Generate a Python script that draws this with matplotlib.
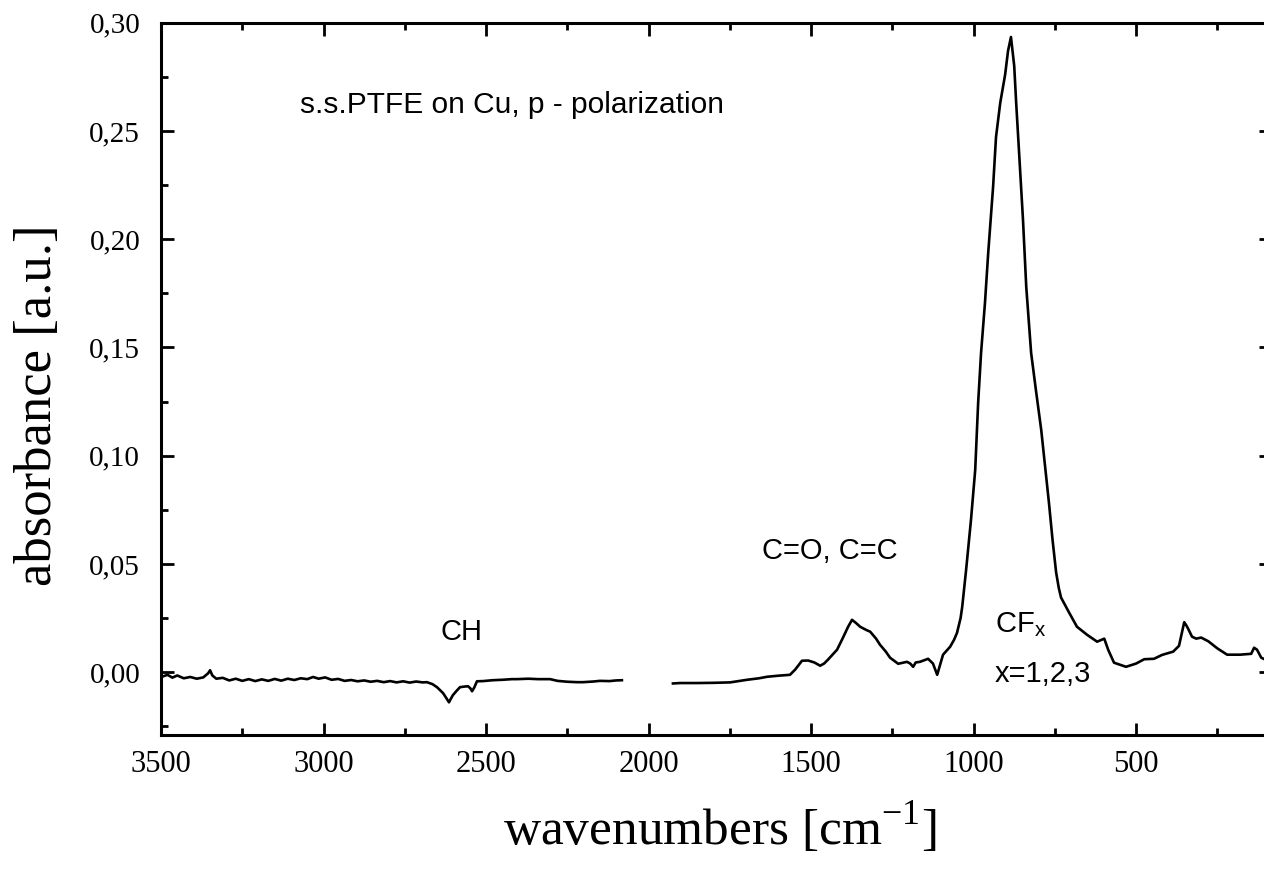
import numpy as np
import matplotlib
matplotlib.use("Agg")
import matplotlib.pyplot as plt
from matplotlib.ticker import MultipleLocator, FuncFormatter

# ---- data: segment 1 (high wavenumber) ----
seg1_w = [3495, 3480, 3465, 3450, 3430, 3410, 3390, 3370, 3355, 3349, 3342, 3330, 3310, 3290,
          3270, 3250, 3230, 3210, 3190, 3170, 3150, 3130, 3110, 3090, 3070, 3050, 3032, 3015,
          2995, 2975, 2955, 2935, 2915, 2895, 2875, 2855, 2835, 2815, 2795, 2775, 2755, 2735,
          2715, 2695, 2682, 2665, 2651, 2640, 2632, 2622, 2614, 2608, 2602, 2590, 2580, 2565,
          2555, 2548, 2543, 2536, 2528, 2509, 2480, 2450, 2420, 2405, 2370, 2340, 2303, 2280,
          2250, 2220, 2202, 2170, 2150, 2120, 2100, 2082]
seg1_a = [-0.0020, -0.0012, -0.0025, -0.0015, -0.0028, -0.0022, -0.0030, -0.0024, -0.0005, 0.0009,
          -0.0015, -0.0030, -0.0026, -0.0038, -0.0030, -0.0040, -0.0032, -0.0041, -0.0033, -0.0040,
          -0.0031, -0.0039, -0.0030, -0.0036, -0.0028, -0.0032, -0.0022, -0.0030, -0.0024, -0.0035,
          -0.0031, -0.0040, -0.0036, -0.0042, -0.0038, -0.0044, -0.0040, -0.0046, -0.0041, -0.0047,
          -0.0042, -0.0048, -0.0043, -0.0047, -0.0046, -0.0055, -0.0069, -0.0085, -0.0097, -0.0120,
          -0.0139, -0.0122, -0.0106, -0.0085, -0.0069, -0.0066, -0.0065, -0.0075, -0.0088, -0.0070,
          -0.0042, -0.0041, -0.0037, -0.0035, -0.0032, -0.0032, -0.0030, -0.0032, -0.0032, -0.0040,
          -0.0044, -0.0046, -0.0046, -0.0043, -0.0040, -0.0041, -0.0038, -0.0037]

# ---- data: segment 2 (low wavenumber) ----
seg2_w = [1925, 1903, 1850, 1800, 1749, 1697, 1660, 1635, 1600, 1565, 1549, 1528, 1509, 1490,
          1472, 1460, 1448, 1420, 1402, 1386, 1374, 1360, 1349, 1330, 1318, 1300, 1288, 1270,
          1257, 1232, 1205, 1195, 1186, 1178, 1165, 1140, 1125, 1112, 1094, 1072, 1060, 1051,
          1040, 1035, 1023, 1008, 995, 986, 977, 965, 955, 940, 931, 918, 903, 894, 885, 875,
          869, 860, 848, 838, 823, 808, 792, 780, 768, 757, 746, 738, 731, 706, 682, 651, 620,
          598, 586, 568, 531, 500, 475, 445, 420, 386, 368, 352, 345, 340, 328, 315, 300, 278,
          250, 220, 180, 146, 137, 128, 115, 105]
seg2_a = [-0.0052, -0.0050, -0.0050, -0.0049, -0.0047, -0.0035, -0.0028, -0.0021, -0.0016, -0.0012,
          0.0012, 0.0053, 0.0054, 0.0045, 0.0030, 0.0040, 0.0058, 0.0104, 0.0159, 0.0210, 0.0242,
          0.0225, 0.0210, 0.0195, 0.0187, 0.0155, 0.0127, 0.0095, 0.0067, 0.0039, 0.0048, 0.0040,
          0.0025, 0.0045, 0.0048, 0.0062, 0.0040, -0.0012, 0.0081, 0.0118, 0.0150, 0.0182, 0.0250,
          0.0302, 0.0473, 0.0704, 0.0935, 0.1244, 0.1475, 0.1706, 0.1937, 0.2242, 0.2472, 0.2630,
          0.2760, 0.2870, 0.2934, 0.2800, 0.2630, 0.2399, 0.2089, 0.1780, 0.1475, 0.1300, 0.1120,
          0.0950, 0.0780, 0.0610, 0.0460, 0.0390, 0.0345, 0.0275, 0.0210, 0.0173, 0.0141, 0.0155,
          0.0104, 0.0044, 0.0025, 0.0040, 0.0060, 0.0062, 0.0080, 0.0095, 0.0122, 0.0231, 0.0215,
          0.0201, 0.0164, 0.0155, 0.0160, 0.0143, 0.0110, 0.0081, 0.0081, 0.0085, 0.0113, 0.0104,
          0.0067, 0.0060]

x_ticks = [3500, 3000, 2500, 2000, 1500, 1000, 500]
y_ticks = [0.00, 0.05, 0.10, 0.15, 0.20, 0.25, 0.30]

W, H = 1264, 871
fig = plt.figure(figsize=(W / 100, H / 100), dpi=100)
left, right, top, bottom = 161, 1271, 22.7, 735
ax = fig.add_axes([left / W, 1 - bottom / H, (right - left) / W, (bottom - top) / H])

ax.plot(seg1_w, seg1_a, color="black", lw=1.9)
ax.plot(seg2_w, seg2_a, color="black", lw=1.9)

ax.set_xlim(3500, 85)
ax.set_ylim(-0.029, 0.30)

ax.set_xticks(x_ticks)
ax.set_yticks(y_ticks)
ax.xaxis.set_minor_locator(MultipleLocator(250))
ax.yaxis.set_minor_locator(MultipleLocator(0.025))
ax.yaxis.set_major_formatter(FuncFormatter(lambda v, p: f"{v:.2f}".replace(".", ",")))

for s in ax.spines.values():
    s.set_linewidth(2.2)
ax.tick_params(which="both", direction="in", top=True, right=True, width=2.0)
ax.tick_params(which="major", length=9)
ax.tick_params(which="minor", length=5)
ax.tick_params(axis="x", which="major", pad=11)
ax.tick_params(axis="y", which="major", pad=15)
for lab in ax.get_xticklabels():
    lab.set_fontfamily("Liberation Serif")
    lab.set_fontsize(22)
for lab in ax.get_yticklabels():
    lab.set_fontfamily("Liberation Serif")
    lab.set_fontsize(21)

fig.text(38 / W, 1 - 405 / H, "absorbance [a.u.]", rotation=90, ha="center", va="center",
         family="Liberation Serif", fontsize=38)
fig.text(720 / W, 1 - 828 / H, r"wavenumbers [cm$^\mathregular{-1}$]", ha="center", va="center",
         family="Liberation Serif", fontsize=37)

sans = "Liberation Sans"
ax.text(3072, 0.262, "s.s.PTFE on Cu, p - polarization", ha="left", va="center",
        family=sans, fontsize=21.5)
ax.text(2577, 0.0187, "CH", ha="center", va="center", family=sans, fontsize=21)
ax.text(1442, 0.056, "C=O, C=C", ha="center", va="center", family=sans, fontsize=21)
ax.text(934, 0.022, r"CF$_\mathregular{x}$", ha="left", va="center", family=sans, fontsize=21)
ax.text(934, -0.0010, "x=1,2,3", ha="left", va="center", family=sans, fontsize=21)

fig.savefig("out.png", dpi=100)
